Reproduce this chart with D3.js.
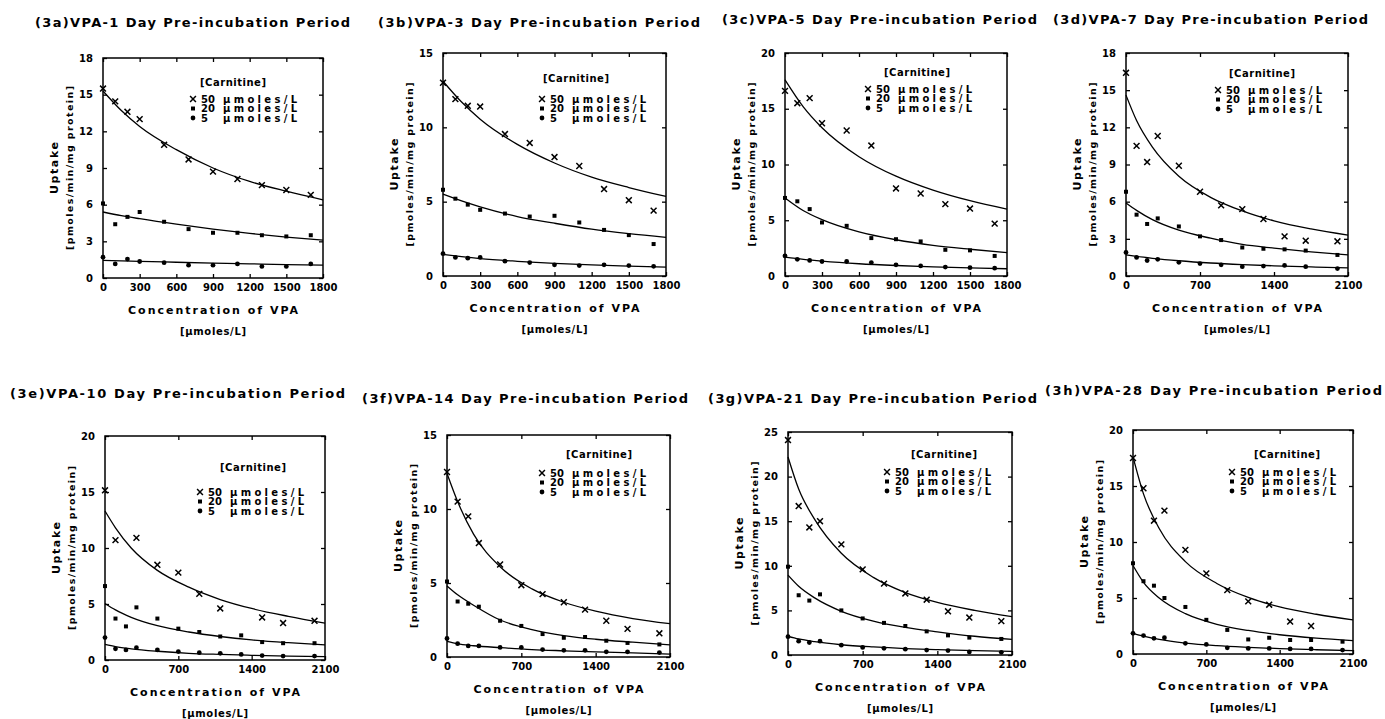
<!DOCTYPE html>
<html>
<head>
<meta charset="utf-8">
<script src="https://cdn.jsdelivr.net/npm/d3@7"></script>
<style>
  body { margin: 0; background: #fff; }
  svg text { font-family: "DejaVu Sans", sans-serif; font-weight: bold; fill: #000; }
</style>
</head>
<body>
<svg id="fig" width="1385" height="719"></svg>
<script>
// VPA concentrations (umoles/L) where uptake was measured
var doses1800 = [0, 100, 200, 300, 500, 700, 900, 1100, 1300, 1500, 1700];
var doses2100 = [0, 100, 200, 300, 500, 700, 900, 1100, 1300, 1500, 1700, 2000];
var fitX1800 = [0, 150, 300, 600, 900, 1200, 1500, 1800];
var fitX2100 = [0, 100, 250, 500, 800, 1100, 1400, 1750, 2100];

var xTicks1800 = [0, 300, 600, 900, 1200, 1500, 1800];
var xTicks2100 = [0, 700, 1400, 2100];
var yTicks15 = [0, 5, 10, 15];
var yTicks18 = [0, 3, 6, 9, 12, 15, 18];
var yTicks20 = [0, 5, 10, 15, 20];
var yTicks25 = [0, 5, 10, 15, 20, 25];

var titles = [
  "(3a)VPA-1 Day Pre-incubation Period",
  "(3b)VPA-3 Day Pre-incubation Period",
  "(3c)VPA-5 Day Pre-incubation Period",
  "(3d)VPA-7 Day Pre-incubation Period",
  "(3e)VPA-10 Day Pre-incubation Period",
  "(3f)VPA-14 Day Pre-incubation Period",
  "(3g)VPA-21 Day Pre-incubation Period",
  "(3h)VPA-28 Day Pre-incubation Period"
];

// carnitine levels, in series order
var carnitine = ["50", "20", "5"];

// uptake (pmoles/min/mg protein): [50, 20, 5 umoles/L carnitine]
var uptake3a = [
  [15.5, 14.45, 13.6, 13.0, 10.9, 9.7, 8.7, 8.1, 7.6, 7.2, 6.8],
  [6.1, 4.4, 5.0, 5.4, 4.6, 4.0, 3.7, 3.7, 3.5, 3.4, 3.5],
  [1.7, 1.15, 1.55, 1.35, 1.25, 1.05, 1.05, 1.15, 0.95, 0.95, 1.15]
];
var fit3a = [
  [15.3, 13.7, 12.4, 10.5, 9.0, 7.9, 7.1, 6.4],
  [5.4, 5.1, 4.85, 4.4, 4.0, 3.65, 3.35, 3.1],
  [1.45, 1.4, 1.36, 1.29, 1.22, 1.16, 1.1, 1.05]
];

var uptake3b = [
  [13.0, 11.9, 11.45, 11.4, 9.55, 8.95, 8.0, 7.4, 5.85, 5.1, 4.4],
  [5.8, 5.2, 4.8, 4.45, 4.2, 4.0, 4.05, 3.6, 3.1, 2.75, 2.15],
  [1.5, 1.25, 1.2, 1.25, 1.0, 0.9, 0.75, 0.7, 0.75, 0.7, 0.65]
];
var fit3b = [
  [13.1, 11.7, 10.55, 8.85, 7.6, 6.65, 5.95, 5.35],
  [5.5, 5.05, 4.65, 4.0, 3.55, 3.15, 2.85, 2.6],
  [1.45, 1.3, 1.17, 0.99, 0.85, 0.75, 0.67, 0.6]
];

var uptake3c = [
  [16.6, 15.5, 15.95, 13.7, 13.05, 11.7, 7.85, 7.4, 6.45, 6.05, 4.7],
  [7.0, 6.7, 6.0, 4.8, 4.5, 3.4, 3.3, 3.1, 2.35, 2.3, 1.8],
  [1.8, 1.5, 1.4, 1.3, 1.3, 1.2, 1.0, 0.9, 0.8, 0.75, 0.7]
];
var fit3c = [
  [17.6, 15.15, 13.3, 10.7, 8.95, 7.7, 6.75, 6.0],
  [7.0, 5.85, 5.05, 3.95, 3.25, 2.75, 2.4, 2.1],
  [1.7, 1.5, 1.34, 1.1, 0.94, 0.82, 0.73, 0.65]
];

var uptake3d = [
  [16.4, 10.5, 9.2, 11.3, 8.9, 6.8, 5.7, 5.4, 4.6, 3.2, 2.85, 2.8],
  [6.8, 4.95, 4.2, 4.65, 4.0, 3.2, 2.9, 2.3, 2.2, 2.15, 2.05, 1.7],
  [1.9, 1.5, 1.25, 1.35, 1.1, 1.0, 0.9, 0.75, 0.8, 0.85, 0.75, 0.6]
];
var fit3d = [
  [14.6, 12.55, 10.4, 8.05, 6.35, 5.25, 4.45, 3.8, 3.3],
  [5.9, 5.3, 4.55, 3.7, 3.05, 2.55, 2.25, 1.95, 1.7],
  [1.7, 1.58, 1.43, 1.23, 1.05, 0.92, 0.82, 0.73, 0.65]
];

var uptake3e = [
  [15.15, 10.7, null, 10.9, 8.5, 7.8, 5.9, 4.6, null, 3.8, 3.3, 3.5],
  [6.6, 3.7, 3.0, 4.7, 3.7, 2.8, 2.5, 2.1, 2.2, 1.6, 1.5, 1.5],
  [2.0, 1.0, 0.9, 1.1, 0.9, 0.75, 0.65, 0.6, 0.5, 0.4, 0.35, 0.35]
];
var fit3e = [
  [13.3, 11.8, 10.0, 8.0, 6.5, 5.4, 4.6, 3.9, 3.3],
  [5.05, 4.47, 3.81, 3.06, 2.5, 2.1, 1.8, 1.55, 1.35],
  [1.4, 1.2, 1.0, 0.78, 0.6, 0.5, 0.42, 0.35, 0.3]
];

var uptake3f = [
  [12.5, 10.5, 9.5, 7.7, 6.25, 4.85, 4.25, 3.7, 3.2, 2.45, 1.9, 1.6],
  [5.1, 3.75, 3.6, 3.4, 2.45, 2.1, 1.55, 1.3, 1.35, 1.1, 0.95, 0.85],
  [1.25, 0.9, 0.75, 0.75, 0.65, 0.65, 0.5, 0.45, 0.45, 0.35, 0.35, 0.3]
];
var fit3f = [
  [12.4, 10.5, 8.3, 6.1, 4.6, 3.7, 3.1, 2.6, 2.25],
  [4.8, 4.2, 3.5, 2.5, 1.85, 1.45, 1.2, 1.0, 0.82],
  [1.05, 0.88, 0.76, 0.63, 0.5, 0.42, 0.35, 0.28, 0.2]
];

var uptake3g = [
  [24.1, 16.7, 14.3, 15.0, 12.4, 9.6, 8.0, 6.9, 6.2, 4.9, 4.2, 3.8],
  [9.9, 6.7, 6.1, 6.8, 5.0, 4.1, 3.6, 3.25, 2.65, 2.2, 1.95, 1.8],
  [2.05, 1.55, 1.4, 1.55, 1.1, 0.85, 0.75, 0.65, 0.55, 0.5, 0.35, 0.3]
];
var fit3g = [
  [22.2, 18.6, 15.2, 11.4, 8.7, 7.0, 5.9, 5.0, 4.3],
  [8.95, 7.7, 6.4, 4.9, 3.8, 3.1, 2.6, 2.1, 1.75],
  [2.1, 1.8, 1.5, 1.15, 0.9, 0.72, 0.6, 0.48, 0.4]
];

var uptake3h = [
  [17.5, 14.8, 11.9, 12.8, 9.3, 7.2, 5.7, 4.7, 4.4, 2.9, 2.5, null],
  [8.1, 6.5, 6.1, 5.0, 4.2, 3.05, 2.15, 1.3, 1.45, 1.25, 1.25, 1.1],
  [1.85, 1.65, 1.4, 1.45, 0.95, 0.85, 0.55, 0.5, 0.5, 0.45, 0.45, 0.35]
];
var fit3h = [
  [17.6, 14.3, 11.2, 8.25, 6.3, 5.05, 4.2, 3.55, 3.05],
  [7.9, 6.4, 5.0, 3.6, 2.65, 2.1, 1.72, 1.42, 1.2],
  [1.85, 1.6, 1.3, 0.98, 0.75, 0.6, 0.48, 0.38, 0.3]
];

// which arrays go in which panel
var panels = [
  {doses: doses1800, fitX: fitX1800, xTicks: xTicks1800, yTicks: yTicks18, pts: uptake3a, fit: fit3a},
  {doses: doses1800, fitX: fitX1800, xTicks: xTicks1800, yTicks: yTicks15, pts: uptake3b, fit: fit3b},
  {doses: doses1800, fitX: fitX1800, xTicks: xTicks1800, yTicks: yTicks20, pts: uptake3c, fit: fit3c},
  {doses: doses2100, fitX: fitX2100, xTicks: xTicks2100, yTicks: yTicks18, pts: uptake3d, fit: fit3d},
  {doses: doses2100, fitX: fitX2100, xTicks: xTicks2100, yTicks: yTicks20, pts: uptake3e, fit: fit3e},
  {doses: doses2100, fitX: fitX2100, xTicks: xTicks2100, yTicks: yTicks15, pts: uptake3f, fit: fit3f},
  {doses: doses2100, fitX: fitX2100, xTicks: xTicks2100, yTicks: yTicks25, pts: uptake3g, fit: fit3g},
  {doses: doses2100, fitX: fitX2100, xTicks: xTicks2100, yTicks: yTicks20, pts: uptake3h, fit: fit3h}
];

// page layout of each panel (box, title, legend offsets)
var layout = [
  {left: 103, top: 58, w: 220, h: 220, tx: 35, ty: 22, tw: 315, hx: 130, hy: 24, mx: 90, ry: 41},
  {left: 443, top: 53, w: 223, h: 223, tx: 378, ty: 22, tw: 322, hx: 133, hy: 25, mx: 99, ry: 46},
  {left: 785, top: 53, w: 222, h: 223, tx: 722, ty: 19, tw: 315, hx: 132, hy: 19, mx: 83, ry: 36},
  {left: 1126, top: 53, w: 222, h: 223, tx: 1053, ty: 19, tw: 315, hx: 136, hy: 20, mx: 92, ry: 37},
  {left: 105, top: 436, w: 220, h: 224, tx: 10, ty: 393, tw: 335, hx: 148, hy: 31, mx: 95, ry: 56},
  {left: 447, top: 435, w: 223, h: 222, tx: 362, ty: 398, tw: 326, hx: 152, hy: 19, mx: 95, ry: 38},
  {left: 788, top: 432, w: 224, h: 223, tx: 708, ty: 398, tw: 329, hx: 156, hy: 22, mx: 99, ry: 40},
  {left: 1133, top: 430, w: 220, h: 224, tx: 1045, ty: 390, tw: 337, hx: 154, hy: 24, mx: 99, ry: 42}
];

var svg = d3.select("#fig");
var symbols = [d3.symbolTimes, d3.symbolSquare, d3.symbolCircle];
var symSize = [24, 16, 18];

function drawMarker(sel, k, cx, cy) {
  var p = sel.append("path")
    .attr("transform", "translate(" + cx + "," + cy + ")")
    .attr("d", d3.symbol().type(symbols[k]).size(symSize[k])());
  if (k == 0) p.attr("fill", "none").attr("stroke", "#000").attr("stroke-width", 1.5);
  else p.attr("fill", "#000");
}

panels.forEach(function(p, i) {
  var L = layout[i];

  svg.append("text")
    .attr("x", L.tx).attr("y", L.ty).attr("dy", "0.35em")
    .attr("textLength", L.tw).attr("lengthAdjust", "spacing")
    .style("font-size", "13px")
    .text(titles[i]);

  var g = svg.append("g").attr("transform", "translate(" + L.left + "," + L.top + ")");

  var x = d3.scaleLinear().domain([0, p.xTicks[p.xTicks.length - 1]]).range([0, L.w]);
  var y = d3.scaleLinear().domain([0, p.yTicks[p.yTicks.length - 1]]).range([L.h, 0]);
  var fmt = d3.format("d");

  // ticks on all four sides, pointing in
  g.append("g").attr("transform", "translate(0," + L.h + ")")
    .call(d3.axisBottom(x).tickValues(p.xTicks).tickFormat(fmt).tickSizeInner(-4).tickSizeOuter(0).tickPadding(6));
  g.append("g")
    .call(d3.axisLeft(y).tickValues(p.yTicks).tickFormat(fmt).tickSizeInner(-4).tickSizeOuter(0).tickPadding(10));
  g.append("g").call(d3.axisTop(x).tickValues(p.xTicks).tickSizeInner(-4).tickSizeOuter(0).tickFormat(""));
  g.append("g").attr("transform", "translate(" + L.w + ",0)")
    .call(d3.axisRight(y).tickValues(p.yTicks).tickSizeInner(-4).tickSizeOuter(0).tickFormat(""));
  g.selectAll(".domain").remove();
  g.selectAll(".tick line").attr("stroke", "#000").attr("stroke-width", 1.3);
  g.selectAll(".tick text").attr("font-family", null).attr("font-size", null).style("font-size", "10px");

  g.append("rect")
    .attr("width", L.w).attr("height", L.h)
    .attr("fill", "none").attr("stroke", "#000").attr("stroke-width", 1.5);

  // fitted curves
  var line = d3.line()
    .x(function(d) { return x(d[0]); })
    .y(function(d) { return y(d[1]); })
    .curve(d3.curveMonotoneX);
  p.fit.forEach(function(vals) {
    g.append("path")
      .datum(vals.map(function(v, j) { return [p.fitX[j], v]; }))
      .attr("d", line)
      .attr("fill", "none").attr("stroke", "#000").attr("stroke-width", 1.3);
  });

  // measured points
  p.pts.forEach(function(vals, k) {
    vals.forEach(function(v, j) {
      if (v == null) return;
      drawMarker(g, k, x(p.doses[j]), y(v));
    });
  });

  // legend
  g.append("text")
    .attr("x", L.hx).attr("y", L.hy).attr("dy", "0.35em")
    .attr("text-anchor", "middle")
    .attr("textLength", 66).attr("lengthAdjust", "spacing")
    .style("font-size", "10px")
    .text("[Carnitine]");
  carnitine.forEach(function(c, k) {
    var ly = L.ry + k * 9.5;
    drawMarker(g, k, L.mx, ly);
    g.append("text").attr("x", L.mx + 8).attr("y", ly).attr("dy", "0.35em")
      .style("font-size", "10px").text(c);
    g.append("text").attr("x", L.mx + 30).attr("y", ly).attr("dy", "0.35em")
      .attr("textLength", 74).attr("lengthAdjust", "spacing")
      .style("font-size", "10px").text("μmoles/L");
  });

  // axis titles
  g.append("text")
    .attr("x", L.w / 2).attr("y", L.h + 32).attr("dy", "0.35em")
    .attr("text-anchor", "middle")
    .attr("textLength", 170).attr("lengthAdjust", "spacing")
    .style("font-size", "11px")
    .text("Concentration of VPA");
  g.append("text")
    .attr("x", L.w / 2).attr("y", L.h + 53).attr("dy", "0.35em")
    .attr("text-anchor", "middle")
    .attr("textLength", 66).attr("lengthAdjust", "spacing")
    .style("font-size", "10px")
    .text("[μmoles/L]");

  g.append("text")
    .attr("transform", "translate(-49," + (L.h / 2) + ") rotate(-90)")
    .attr("text-anchor", "middle").attr("dy", "0.35em")
    .attr("textLength", 52).attr("lengthAdjust", "spacing")
    .style("font-size", "11px")
    .text("Uptake");
  g.append("text")
    .attr("transform", "translate(-33," + (L.h / 2) + ") rotate(-90)")
    .attr("text-anchor", "middle").attr("dy", "0.35em")
    .attr("textLength", 164).attr("lengthAdjust", "spacing")
    .style("font-size", "9.5px")
    .text("[pmoles/min/mg protein]");
});
</script>
</body>
</html>
